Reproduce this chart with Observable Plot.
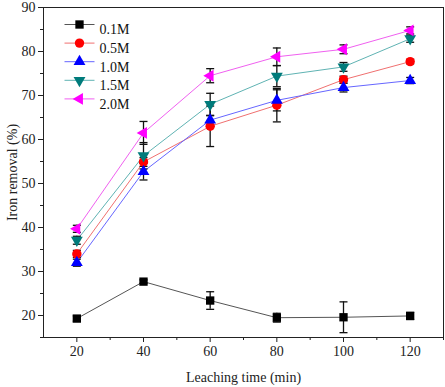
<!DOCTYPE html>
<html>
<head>
<meta charset="utf-8">
<script src="https://cdn.jsdelivr.net/npm/d3@7"></script>
<script src="https://cdn.jsdelivr.net/npm/@observablehq/plot@0.6"></script>
<style>
  html, body { margin: 0; padding: 0; background: #fff; }
  #chart svg { font-family: "Liberation Serif", "DejaVu Serif", serif; }
</style>
</head>
<body>
<div id="chart"></div>
<script>
const times = [20, 40, 60, 80, 100, 120];
const seriesNames = ["0.1M", "0.5M", "1.0M", "1.5M", "2.0M"];
const v01 = [19.3, 27.7, 23.4, 19.5, 19.6, 19.9];
const e01 = [0.6, 0.4, 2.0, 1.0, 3.5, 0.8];
const v05 = [34.0, 54.9, 63.0, 67.8, 73.6, 77.7];
const e05 = [0.8, 1.0, 4.6, 3.8, 0.8, 0.5];
const v10 = [32.0, 52.7, 64.4, 68.9, 71.8, 73.4];
const e10 = [0.8, 1.9, 1.0, 2.4, 1.0, 0.7];
const v15 = [37.1, 56.3, 68.0, 74.4, 76.5, 82.9];
const e15 = [0.9, 3.0, 2.5, 2.4, 1.0, 0.8];
const v20 = [39.7, 61.5, 74.5, 78.8, 80.5, 84.8];
const e20 = [0.8, 2.6, 1.6, 2.0, 1.0, 0.8];
const xMajorTicks = [20, 40, 60, 80, 100, 120];
const xMinorTicks = [30, 50, 70, 90, 110, 130];
const yMajorTicks = [20, 30, 40, 50, 60, 70, 80, 90];
const yMinorTicks = [15, 25, 35, 45, 55, 65, 75, 85];

// custom symbols
function tri(dir) {
  return {
    draw(ctx, size) {
      const a = Math.sqrt(4 * size / Math.sqrt(3));
      const h = Math.sqrt(3) / 2 * a;
      let pts;
      if (dir === "down") pts = [[0, 2*h/3], [a/2, -h/3], [-a/2, -h/3]];
      else if (dir === "left") pts = [[-2*h/3, 0], [h/3, -a/2], [h/3, a/2]];
      else pts = [[0, -2*h/3], [a/2, h/3], [-a/2, h/3]];
      ctx.moveTo(pts[0][0], pts[0][1]);
      ctx.lineTo(pts[1][0], pts[1][1]);
      ctx.lineTo(pts[2][0], pts[2][1]);
      ctx.closePath();
    }
  };
}
const capSym = { draw(ctx) { ctx.moveTo(-4, 0); ctx.lineTo(4, 0); } };
const legendLineSym = { draw(ctx) { ctx.moveTo(-15, 0); ctx.lineTo(15, 0); } };

const values = [v01, v05, v10, v15, v20];
const errors = [e01, e05, e10, e15, e20];
const markerColors = ["#000000", "#ff0000", "#0000ff", "#007b7b", "#ff00ff"];
const lineColors = ["#555555", "#f07070", "#6666ff", "#5fb3b3", "#f060f0"];
const symbols = ["square", "circle", tri("up"), tri("down"), tri("left")];
const radii = [4.7, 4.7, 4.4, 4.4, 4.4];

const rows = [];
seriesNames.forEach((s, si) => {
  times.forEach((t, ti) => rows.push({ s, si, t, v: values[si][ti], e: errors[si][ti] }));
});

const marks = [
  Plot.frame({ stroke: "#222" }),
  Plot.axisX({ ticks: xMajorTicks, tickSize: 5, tickPadding: 4, fontSize: 14, label: "Leaching time (min)", labelAnchor: "center", labelArrow: "none", labelOffset: 44, tickFormat: d => String(d) }),
  Plot.axisX({ ticks: xMinorTicks, tickSize: 3, text: null, label: null }),
  Plot.axisY({ ticks: yMajorTicks, tickSize: 5, tickPadding: 3, fontSize: 14, label: "Iron removal (%)", labelAnchor: "center", labelArrow: "none", labelOffset: 36, tickFormat: d => String(d) }),
  Plot.axisY({ ticks: yMinorTicks, tickSize: 3, text: null, label: null })
];

seriesNames.forEach((s, si) => {
  const d = rows.filter(r => r.si === si);
  marks.push(Plot.line(d, { x: "t", y: "v", stroke: lineColors[si], strokeWidth: 1 }));
});
seriesNames.forEach((s, si) => {
  const d = rows.filter(r => r.si === si);
  marks.push(Plot.ruleX(d, { x: "t", y1: r => r.v - r.e, y2: r => r.v + r.e, stroke: "#111", strokeWidth: 1.3 }));
  marks.push(Plot.dot(d, { x: "t", y: r => r.v - r.e, symbol: capSym, stroke: "#111", strokeWidth: 1.3, r: 3 }));
  marks.push(Plot.dot(d, { x: "t", y: r => r.v + r.e, symbol: capSym, stroke: "#111", strokeWidth: 1.3, r: 3 }));
});
seriesNames.forEach((s, si) => {
  const d = rows.filter(r => r.si === si);
  marks.push(Plot.dot(d, { x: "t", y: "v", symbol: symbols[si], fill: markerColors[si], stroke: "none", r: radii[si] }));
});

// legend inside frame
seriesNames.forEach((s, si) => {
  const dy = 17 + si * 18.6;
  marks.push(Plot.dot([s], { frameAnchor: "top-left", dx: 36, dy, symbol: legendLineSym, stroke: lineColors[si], strokeWidth: 1, r: 3 }));
  marks.push(Plot.dot([s], { frameAnchor: "top-left", dx: 36, dy, symbol: symbols[si], fill: markerColors[si], stroke: "none", r: radii[si] }));
  marks.push(Plot.text([s], { frameAnchor: "top-left", dx: 56, dy, text: d => d, textAnchor: "start", fontSize: 14, fill: "#111" }));
});

const chart = Plot.plot({
  width: 445,
  height: 387,
  marginLeft: 43,
  marginRight: 2,
  marginTop: 7,
  marginBottom: 50,
  style: { fontFamily: "'Liberation Serif', 'DejaVu Serif', serif", fontSize: "14px", color: "#222", background: "#fff" },
  x: { domain: [10, 130] },
  y: { domain: [15, 90] },
  marks
});
document.getElementById("chart").appendChild(chart);
</script>
</body>
</html>
